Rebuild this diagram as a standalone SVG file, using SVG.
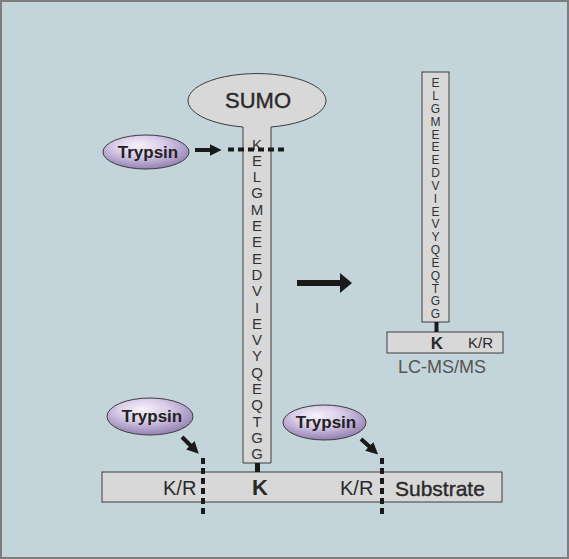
<svg xmlns="http://www.w3.org/2000/svg" width="569" height="559" viewBox="0 0 569 559">
<defs>
<radialGradient id="tryp" cx="45%" cy="35%" r="65%" fx="40%" fy="30%">
<stop offset="0" stop-color="#f6f2fa"/>
<stop offset="0.45" stop-color="#d9cde8"/>
<stop offset="1" stop-color="#9480b3"/>
</radialGradient>
<marker id="ah" viewBox="0 0 10 10" refX="2" refY="5" markerWidth="3" markerHeight="3" orient="auto" markerUnits="strokeWidth">
<path d="M0,0 L10,5 L0,10 Z" fill="#1a1a1a"/>
</marker>
<style>
.bar{fill:#d8d8d8;stroke:#3c3c3c;stroke-width:1}
.tryp{fill:url(#tryp);stroke:#3c3c3c;stroke-width:1}
.tt{font-family:"Liberation Sans",Arial,sans-serif;font-weight:bold;font-size:17px;fill:#222;text-anchor:middle}
.seq{font-family:"Liberation Sans",Arial,sans-serif;font-size:15px;fill:#333;text-anchor:middle}
.seqs{font-family:"Liberation Sans",Arial,sans-serif;font-size:12px;fill:#333;text-anchor:middle}
.lbl{font-family:"Liberation Sans",Arial,sans-serif;fill:#2a2a2a}
.dash{stroke:#1a1a1a;stroke-width:4;stroke-dasharray:6 4;fill:none}
.arr{stroke:#1a1a1a;stroke-width:4;fill:none}
.stub{stroke:#1a1a1a;fill:none}
</style>
</defs>
<rect x="1" y="1" width="567" height="557" fill="#c3d4da" stroke="#7d7d7d" stroke-width="2"/>

<g id="sumo">
<path class="bar" d="M243,463 L243,127 A69,27 0 1 1 271,127 L271,463 Z"/>
<text class="lbl" x="258" y="108" font-size="22" text-anchor="middle" stroke="#2a2a2a" stroke-width="0.4">SUMO</text>
<g class="seq">
<text x="257" y="149.5">K</text>
<text x="257" y="165.8">E</text>
<text x="257" y="182.1">L</text>
<text x="257" y="198.4">G</text>
<text x="257" y="214.7">M</text>
<text x="257" y="231">E</text>
<text x="257" y="247.3">E</text>
<text x="257" y="263.6">E</text>
<text x="257" y="279.9">D</text>
<text x="257" y="296.2">V</text>
<text x="257" y="312.5">I</text>
<text x="257" y="328.8">E</text>
<text x="257" y="345.1">V</text>
<text x="257" y="361.4">Y</text>
<text x="257" y="377.7">Q</text>
<text x="257" y="394">E</text>
<text x="257" y="410.3">Q</text>
<text x="257" y="426.6">T</text>
<text x="257" y="442.9">G</text>
<text x="257" y="459.2">G</text>
</g>
</g>

<g id="substrate">
<rect class="bar" x="102" y="472" width="400" height="30"/>
<text class="lbl" x="163" y="495" font-size="20">K/R</text>
<text class="lbl" x="260" y="495" font-size="22" font-weight="bold" text-anchor="middle">K</text>
<text class="lbl" x="340" y="495" font-size="20">K/R</text>
<text class="lbl" x="395" y="496" font-size="21" stroke="#2a2a2a" stroke-width="0.4">Substrate</text>
</g>

<g id="trypsin1">
<ellipse class="tryp" cx="146" cy="152" rx="43" ry="17"/>
<text class="tt" x="148" y="158">Trypsin</text>
</g>
<g id="trypsin2">
<ellipse class="tryp" cx="150" cy="416.5" rx="43" ry="18.5"/>
<text class="tt" x="152" y="422">Trypsin</text>
</g>
<g id="trypsin3">
<ellipse class="tryp" cx="324.5" cy="422.5" rx="41.5" ry="17.5"/>
<text class="tt" x="326" y="428">Trypsin</text>
</g>

<g id="product">
<rect class="bar" x="422" y="72" width="27" height="250"/>
<g class="seqs">
<text x="435.5" y="87.3">E</text>
<text x="435.5" y="100.1">L</text>
<text x="435.5" y="112.9">G</text>
<text x="435.5" y="125.8">M</text>
<text x="435.5" y="138.6">E</text>
<text x="435.5" y="151.4">E</text>
<text x="435.5" y="164.3">E</text>
<text x="435.5" y="177.1">D</text>
<text x="435.5" y="189.9">V</text>
<text x="435.5" y="202.8">I</text>
<text x="435.5" y="215.6">E</text>
<text x="435.5" y="228.4">V</text>
<text x="435.5" y="241.3">Y</text>
<text x="435.5" y="254.1">Q</text>
<text x="435.5" y="266.9">E</text>
<text x="435.5" y="279.8">Q</text>
<text x="435.5" y="292.6">T</text>
<text x="435.5" y="305.4">G</text>
<text x="435.5" y="318.3">G</text>
</g>
<rect class="bar" x="387" y="332" width="116" height="21"/>
<text class="lbl" x="437" y="349" font-size="17" font-weight="bold" text-anchor="middle">K</text>
<text class="lbl" x="468" y="348" font-size="15">K/R</text>
<text x="442" y="373" font-size="18" font-family="Liberation Sans, Arial, sans-serif" fill="#555" text-anchor="middle">LC-MS/MS</text>
</g>

<g id="connectors">
<line class="stub" x1="257.5" y1="463" x2="257.5" y2="472" stroke-width="5"/>
<line class="stub" x1="436.5" y1="322" x2="436.5" y2="332" stroke-width="4"/>
<line class="dash" x1="228" y1="149.5" x2="286" y2="149.5"/>
<line class="dash" x1="203" y1="458" x2="203" y2="516"/>
<line class="dash" x1="382" y1="458" x2="382" y2="516"/>
<line class="arr" x1="195" y1="150" x2="212" y2="150" marker-end="url(#ah)"/>
<line class="arr" x1="182" y1="437" x2="192" y2="447" stroke-width="3.5" marker-end="url(#ah)"/>
<line class="arr" x1="361" y1="439" x2="371" y2="448" stroke-width="3.5" marker-end="url(#ah)"/>
<path d="M297,280 L340,280 L340,273 L352,283 L340,293 L340,286 L297,286 Z" fill="#1a1a1a"/>
</g>
</svg>
